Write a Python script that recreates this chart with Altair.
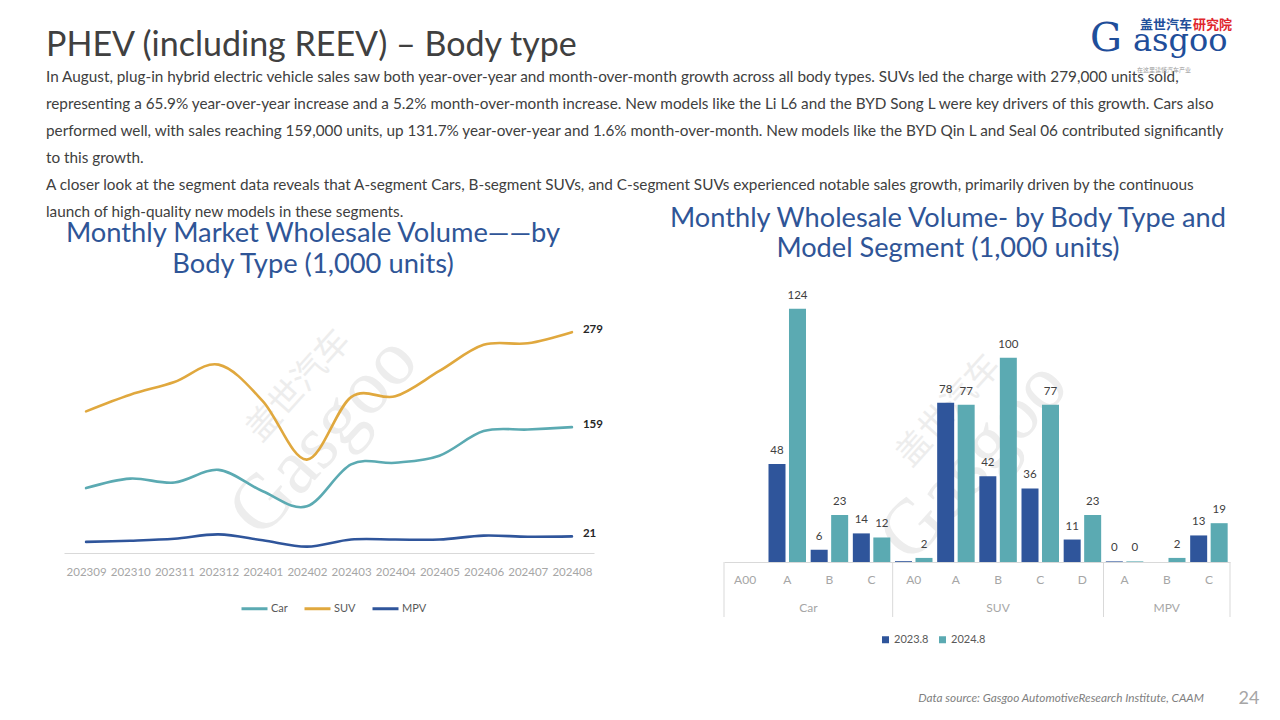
import altair as alt
import pandas as pd

# ---------------- data ----------------
months = ["202309", "202310", "202311", "202312", "202401", "202402",
          "202403", "202404", "202405", "202406", "202407", "202408"]
car = [82, 94, 89, 105, 78, 59, 112, 114, 123, 154, 156, 159]
suv = [179, 200, 216, 238, 192, 118, 197, 198, 230, 263, 265, 279]
mpv = [14, 15.5, 18, 23.5, 16, 8, 17, 17, 17, 22, 20.6, 21]
series_names = ["Car", "SUV", "MPV"]

body_types = ["Car", "Car", "Car", "Car", "SUV", "SUV", "SUV", "SUV", "SUV", "MPV", "MPV", "MPV"]
segments = ["A00", "A", "B", "C", "A0", "A", "B", "C", "D", "A", "B", "C"]
years = ["2023.8", "2024.8"]
vol_2023 = [None, 48, 6, 14, 0.4, 78, 42, 36, 11, 0.3, None, 13]
vol_2024 = [None, 124, 23, 12, 2, 77, 100, 77, 23, 0.3, 2, 19]
lab_2023 = ["", "48", "6", "14", "", "78", "42", "36", "11", "0", "", "13"]
lab_2024 = ["", "124", "23", "12", "2", "77", "100", "77", "23", "0", "2", "19"]

page_title = "PHEV (including REEV) \u2013 Body type"
paragraph = [
    "In August, plug-in hybrid electric vehicle sales saw both year-over-year and month-over-month growth across all body types. SUVs led the charge with 279,000 units sold,",
    "representing a 65.9% year-over-year increase and a 5.2% month-over-month increase. New models like the Li L6 and the BYD Song L were key drivers of this growth. Cars also",
    "performed well, with sales reaching 159,000 units, up 131.7% year-over-year and 1.6% month-over-month. New models like the BYD Qin L and Seal 06 contributed significantly",
    "to this growth.",
    "A closer look at the segment data reveals that A-segment Cars, B-segment SUVs, and C-segment SUVs experienced notable sales growth, primarily driven by the continuous",
    "launch of high-quality new models in these segments.",
]
left_title = ["Monthly Market Wholesale Volume\u2014\u2014by", "Body Type (1,000 units)"]
right_title = ["Monthly Wholesale Volume- by Body Type and", "Model Segment (1,000 units)"]
source_text = "Data source: Gasgoo AutomotiveResearch Institute, CAAM"
page_no = "24"

# ---------------- styling ----------------
TEAL = "#5BAAB2"
GOLD = "#E0A83E"
NAVY = "#2F559B"
TITLE_BLUE = "#2F5597"
TXT = "#404040"
AXIS_GREY = "#A6A6A6"
LINE_GREY = "#D9D9D9"
LOGO_BLUE = "#1F4E9A"
LOGO_RED = "#E0262B"
WM = "#EDEDED"

W1, H1 = 530, 277
W2, H2 = 506, 286

line_df = pd.DataFrame(
    [{"month": m, "series": s, "value": v}
     for s, vals in zip(series_names, [car, suv, mpv])
     for m, v in zip(months, vals)]
)

keys = [f"{b}|{s}" for b, s in zip(body_types, segments)]
rows = []
for k, b, s, v23, v24, l23, l24 in zip(keys, body_types, segments, vol_2023, vol_2024, lab_2023, lab_2024):
    rows.append({"key": k, "body": b, "seg": s, "year": years[0], "value": v23, "label": l23})
    rows.append({"key": k, "body": b, "seg": s, "year": years[1], "value": v24, "label": l24})
bar_df = pd.DataFrame(rows)

one = pd.DataFrame({"k": [0]})


def note(text, x, y, **kw):
    return alt.Chart(one).mark_text(text=text, **kw).encode(x=alt.value(x), y=alt.value(y))


# ---------------- left chart ----------------
x1 = alt.X("month:O", sort=months,
           scale=alt.Scale(type="point", padding=0.5),
           axis=alt.Axis(title=None, labelAngle=0, labelColor=AXIS_GREY, labelFontSize=11.5,
                         domainColor=LINE_GREY, ticks=False, tickSize=0, labelPadding=13))
y1 = alt.Y("value:Q", scale=alt.Scale(domain=[0, 350]), axis=None)
color1 = alt.Color("series:N", sort=series_names,
                   scale=alt.Scale(domain=series_names, range=[TEAL, GOLD, NAVY]),
                   legend=alt.Legend(title=None, orient="none", legendX=176, legendY=318,
                                     direction="horizontal", symbolType="stroke", symbolSize=676,
                                     symbolStrokeWidth=3, labelFontSize=11, labelColor="#595959",
                                     columnPadding=10, labelOffset=2))

lines = alt.Chart(line_df).mark_line(interpolate="cardinal", strokeWidth=2.6, strokeCap="round").encode(
    x=x1, y=y1, color=color1)
ends = alt.Chart(line_df).transform_filter(alt.datum.month == months[-1]).mark_text(
    align="left", dx=11, dy=-2, fontWeight="bold", fontSize=11.5, color="#262626").encode(
    x=x1, y=y1, text="value:Q")

left = alt.layer(
    note("Gasgoo", 260, 160, font="Liberation Serif", fontSize=78, angle=312, color=WM),
    note("盖世汽车", 235, 110, font="Noto Sans CJK SC", fontSize=34, angle=312, color=WM),
    lines, ends,
    note(page_title, -18, -220, align="left", baseline="alphabetic", fontSize=34, color=TXT),
    note(paragraph, -18, -194, align="left", baseline="alphabetic", fontSize=15.3, lineHeight=27, color=TXT),
    note(left_title, 249, -34, align="center", baseline="alphabetic", fontSize=27.3, lineHeight=31,
         color=TITLE_BLUE),
).properties(width=W1, height=H1)

# ---------------- right chart ----------------
def xkey(bp=None):
    kw = {}
    if bp is not None:
        kw["bandPosition"] = bp
    return alt.X("key:N", sort=keys,
                 scale=alt.Scale(domain=keys, paddingInner=0, paddingOuter=0),
                 axis=alt.Axis(title=None, labelExpr="split(datum.value, '|')[1]", labelAngle=0,
                               labelColor=AXIS_GREY, labelFontSize=12, domainColor=LINE_GREY,
                               ticks=False, tickSize=0, labelPadding=12),
                 **kw)


xo = alt.XOffset("year:N", sort=years, scale=alt.Scale(domain=years, paddingInner=0.17, paddingOuter=0.114))
y2 = alt.Y("value:Q", scale=alt.Scale(domain=[0, 140]), axis=None)
color2 = alt.Color("year:N", sort=years, scale=alt.Scale(domain=years, range=[NAVY, TEAL]),
                   legend=alt.Legend(title=None, orient="none", legendX=156, legendY=358,
                                     direction="horizontal", symbolType="square", symbolSize=49,
                                     symbolStrokeWidth=0, labelFontSize=11, labelColor="#595959",
                                     columnPadding=8, labelOffset=3))

bars = alt.Chart(bar_df).mark_bar().encode(x=xkey(), xOffset=xo, y=y2, color=color2)
blabels = alt.Chart(bar_df).mark_text(baseline="bottom", dy=-8, fontSize=11.5, color=TXT).encode(
    x=xkey(), xOffset=xo, y=y2, text="label:N")

group_mid = pd.DataFrame({"key": ["Car|A"], "body": ["Car"]})
group_ctr = pd.DataFrame({"key": ["SUV|B", "MPV|B"], "body": ["SUV", "MPV"]})
g1 = alt.Chart(group_mid).mark_text(fontSize=12, color=AXIS_GREY, baseline="middle").encode(
    x=xkey(1), y=alt.value(H2 + 46), text="body:N")
g2 = alt.Chart(group_ctr).mark_text(fontSize=12, color=AXIS_GREY, baseline="middle").encode(
    x=xkey(0.5), y=alt.value(H2 + 46), text="body:N")

div_start = pd.DataFrame({"key": ["Car|A00", "SUV|A0", "MPV|A"]})
div_end = pd.DataFrame({"key": ["MPV|C"]})
d1 = alt.Chart(div_start).mark_rule(color=LINE_GREY, strokeWidth=1).encode(
    x=xkey(0), y=alt.value(H2), y2=alt.value(H2 + 55))
d2 = alt.Chart(div_end).mark_rule(color=LINE_GREY, strokeWidth=1).encode(
    x=xkey(1), y=alt.value(H2), y2=alt.value(H2 + 55))

right = alt.layer(
    note("Gasgoo", 250, 185, font="Liberation Serif", fontSize=78, angle=312, color=WM),
    note("盖世汽车", 225, 135, font="Noto Sans CJK SC", fontSize=34, angle=312, color=WM),
    bars, blabels, g1, g2, d1, d2,
    note(right_title, 224, -49, align="center", baseline="alphabetic", fontSize=27.2, lineHeight=30,
         color=TITLE_BLUE),
    note(source_text, 480, 422, align="right", baseline="middle", fontSize=11.8, fontStyle="italic",
         color="#7F7F7F"),
    note(page_no, 525, 423, align="center", baseline="middle", fontSize=18, color="#A6A6A6"),
    note("盖世汽车", 416, -251, align="left", baseline="middle", fontSize=13, fontWeight="bold",
         font="Noto Sans CJK SC", color=LOGO_BLUE),
    note("研究院", 508, -251, align="right", baseline="middle", fontSize=13, fontWeight="bold",
         font="Noto Sans CJK SC", color=LOGO_RED),
    note("G", 366, -225, align="left", baseline="alphabetic", fontSize=40, font="DejaVu Serif",
         color=LOGO_BLUE),
    note("asgoo", 409, -225, align="left", baseline="alphabetic", fontSize=32, font="DejaVu Serif",
         color=LOGO_BLUE),
    note("在这里读懂汽车产业", 440, -206, align="center", baseline="middle", fontSize=6,
         font="Noto Sans CJK SC", color="#999999"),
).properties(width=W2, height=H2)

chart = alt.hconcat(left, right, spacing=130, bounds="flush").resolve_scale(
    color="independent", x="independent", y="independent"
).resolve_legend(color="independent").properties(
    padding={"left": 46, "top": 19, "right": 10, "bottom": 5},
    background="white",
).configure(font="Lato").configure_view(stroke=None)

chart.save("out.html", embed_options={"renderer": "svg", "actions": False})
